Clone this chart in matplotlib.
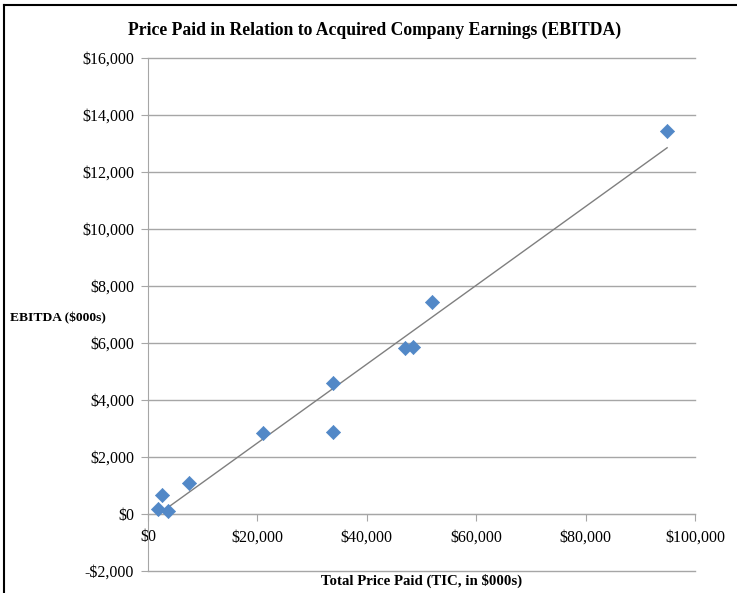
import numpy as np
import matplotlib.pyplot as plt
from matplotlib.ticker import FuncFormatter
from matplotlib.lines import Line2D

# deal data, $000s
tic = [1770, 2560, 3720, 7500, 21080, 33820, 33800, 47000, 48400, 51900, 94900]
ebitda = [175, 650, 120, 1090, 2830, 2880, 4590, 5830, 5860, 7440, 13430]

plt.rcParams['font.family'] = ['Liberation Serif', 'DejaVu Serif']

fig = plt.figure(figsize=(7.37, 5.93), dpi=100)
ax = fig.add_axes([148 / 737, 22 / 593, 547 / 737, 513 / 593])

ax.scatter(tic, ebitda, marker='D', s=52, color='#5288C7', edgecolors='#5288C7',
           linewidths=0.5, zorder=3)

# linear trendline over the data range
k, b = np.polyfit(tic, ebitda, 1)
xs = np.array([min(tic), max(tic)])
ax.plot(xs, k * xs + b, color='#7f7f7f', lw=1, zorder=2)

ax.set_xlim(0, 100000)
ax.set_ylim(-2000, 16000)
ax.set_xticks(np.arange(0, 100001, 20000))
ax.set_yticks(np.arange(-2000, 16001, 2000))

def money(v, pos):
    v = int(round(v))
    return '-${:,}'.format(-v) if v < 0 else '${:,}'.format(v)

ax.xaxis.set_major_formatter(FuncFormatter(money))
ax.yaxis.set_major_formatter(FuncFormatter(money))

ax.grid(axis='y', color='#a6a6a6', lw=1)
for gl in ax.get_ygridlines():
    gl.set_clip_on(False)
ax.set_axisbelow(True)
for s in ['top', 'right']:
    ax.spines[s].set_visible(False)
ax.spines['bottom'].set_position(('data', 0))
ax.spines['bottom'].set_color('#a6a6a6')
ax.spines['left'].set_color('#a6a6a6')
ax.tick_params(axis='both', colors='#a6a6a6', length=5, labelsize=11.5,
               labelcolor='black')
ax.tick_params(axis='x', pad=6)
ax.tick_params(axis='y', pad=5)

fig.text(375 / 737, 1 - 30 / 593, 'Price Paid in Relation to Acquired Company Earnings (EBITDA)',
         ha='center', va='center', fontsize=12.7, fontweight='bold')
fig.text(10 / 737, 1 - 318 / 593, 'EBITDA ($000s)', ha='left', va='center',
         fontsize=9.7, fontweight='bold')
fig.text(422 / 737, 1 - 581 / 593, 'Total Price Paid (TIC, in $000s)', ha='center',
         va='center', fontsize=10.7, fontweight='bold')

# chart frame (left and top edges visible)
fig.add_artist(Line2D([3.5 / 737, 3.5 / 737], [0, 1 - 5 / 593], color='black', lw=1.5))
fig.add_artist(Line2D([3.5 / 737, 1], [1 - 5 / 593, 1 - 5 / 593], color='black', lw=1.5))

fig.savefig('out.png', dpi=100)
